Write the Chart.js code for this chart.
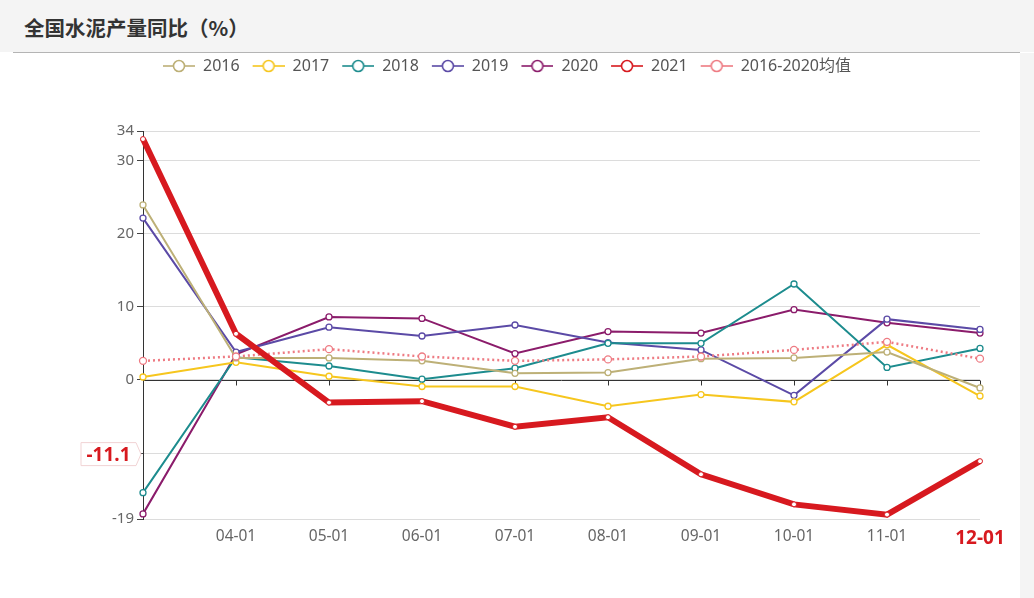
<!DOCTYPE html>
<html><head><meta charset="utf-8">
<script src="https://cdn.jsdelivr.net/npm/chart.js@4/dist/chart.umd.min.js"></script>
<style>
html,body{margin:0;padding:0;width:1034px;height:598px;overflow:hidden;background:#fff;}
#header{position:absolute;left:0;top:0;width:1034px;height:52px;background:#f4f4f4;}
#title{position:absolute;left:24px;top:15px;font:bold 20.5px "Noto Sans CJK SC",sans-serif;color:#333;line-height:24px;}
#rule{position:absolute;left:13px;top:52px;width:1007px;height:1px;background:#b4b4b4;}
#rightstrip{position:absolute;left:1020px;top:53px;width:14px;height:545px;background:#f4f4f4;}
#wrap{position:absolute;left:14px;top:48px;width:1006px;height:550px;}
</style></head>
<body>
<div id="header"><div id="title">全国水泥产量同比（%）</div></div>
<div id="rule"></div><div id="rightstrip"></div>
<div id="wrap"><canvas id="c"></canvas></div>
<script>
const categories = ['03-01','04-01','05-01','06-01','07-01','08-01','09-01','10-01','11-01','12-01'];
const s2016 = [23.9, 3.0, 3.0, 2.6, 0.9, 1.0, 2.9, 3.0, 3.8, -1.1];
const s2017 = [0.4, 2.4, 0.5, -0.9, -0.9, -3.6, -2.0, -3.0, 4.8, -2.2];
const s2018 = [-15.4, 3.1, 1.9, 0.1, 1.6, 5.0, 5.0, 13.1, 1.7, 4.3];
const s2019 = [22.1, 3.8, 7.2, 6.0, 7.5, 5.1, 4.1, -2.1, 8.3, 6.9];
const s2020 = [-18.3, 3.5, 8.6, 8.4, 3.6, 6.6, 6.4, 9.6, 7.8, 6.4];
const s2021 = [32.9, 6.3, -3.1, -2.9, -6.4, -5.1, -12.9, -17.0, -18.4, -11.1];
const sAvg  = [2.6, 3.2, 4.2, 3.2, 2.6, 2.8, 3.2, 4.1, 5.2, 2.9];
const yTicks = [-19, -10, 0, 10, 20, 30, 34];
const highlightTick = -10;

const FONT = "'Noto Sans', 'Noto Sans CJK SC', sans-serif";
const RED = '#d7191f';

function legendIcon(color) {
  const c = document.createElement('canvas');
  c.width = 35; c.height = 16;
  const g = c.getContext('2d');
  g.strokeStyle = color; g.lineWidth = 1.6;
  g.beginPath(); g.moveTo(3, 8); g.lineTo(35, 8); g.stroke();
  g.beginPath(); g.arc(19, 8, 5.5, 0, Math.PI * 2);
  g.fillStyle = '#fff'; g.fill(); g.stroke();
  return c;
}

function ds(label, data, color, extra) {
  return Object.assign({
    label, data, borderColor: color, backgroundColor: '#fff',
    borderWidth: 2, pointRadius: 3, pointBorderWidth: 1.3,
    pointBackgroundColor: '#fff', pointBorderColor: color,
    tension: 0, order: 2, icon: legendIcon(color)
  }, extra || {});
}

const datasets = [
  ds('2016', s2016, '#bdb077'),
  ds('2017', s2017, '#f6c61e'),
  ds('2018', s2018, '#1d8c8e'),
  ds('2019', s2019, '#5b4aa6'),
  ds('2020', s2020, '#8b1c6b'),
  ds('2021', s2021, RED, {borderWidth: 6, pointRadius: 2.5, pointBorderWidth: 1, order: 0}),
  ds('2016-2020均值', sAvg, '#ee7b83', {borderDash: [2, 3], borderWidth: 2.5, pointRadius: 3.5, order: 1})
];

const overlay = {
  id: 'overlay',
  beforeInit(chart) {
    const orig = chart.legend.fit;
    chart.legend.fit = function () { orig.call(this); this.height = 83; };
  },
  beforeDatasetsDraw(chart) {
    const {ctx, chartArea, scales: {x, y}} = chart;
    const y0 = Math.round(y.getPixelForValue(0)) + 0.5;
    ctx.save();
    ctx.strokeStyle = '#333'; ctx.lineWidth = 1;
    ctx.beginPath(); ctx.moveTo(chartArea.left, y0); ctx.lineTo(chartArea.right, y0); ctx.stroke();
    for (let i = 1; i < categories.length; i++) {
      const px = Math.round(x.getPixelForValue(i)) + 0.5;
      ctx.beginPath(); ctx.moveTo(px, y0); ctx.lineTo(px, y0 + 5); ctx.stroke();
    }
    ctx.restore();
  },
  afterDraw(chart) {
    const {ctx, chartArea, scales: {y}} = chart;
    const yy = y.getPixelForValue(highlightTick) + 1;
    const tip = chartArea.left - 2, br = chartArea.left - 7, bl = chartArea.left - 62, h = 23;
    ctx.save();
    ctx.beginPath();
    ctx.moveTo(bl, yy - h / 2); ctx.lineTo(br, yy - h / 2); ctx.lineTo(tip, yy);
    ctx.lineTo(br, yy + h / 2); ctx.lineTo(bl, yy + h / 2); ctx.closePath();
    ctx.fillStyle = '#fff'; ctx.fill();
    ctx.strokeStyle = '#f1d3d4'; ctx.lineWidth = 1; ctx.stroke();
    ctx.fillStyle = RED; ctx.font = "bold 19px " + FONT;
    ctx.textAlign = 'center'; ctx.textBaseline = 'middle';
    ctx.fillText(String(s2021[s2021.length - 1]), (bl + br) / 2, yy + 1);
    ctx.restore();
  }
};

new Chart(document.getElementById('c'), {
  type: 'line',
  data: {labels: categories, datasets},
  plugins: [overlay],
  options: {
    responsive: true, maintainAspectRatio: false, animation: false,
    layout: {padding: {left: 17, right: 40, top: 0, bottom: 0}},
    plugins: {
      tooltip: {enabled: false},
      legend: {
        position: 'top', align: 'center',
        labels: {
          usePointStyle: true, pointStyleWidth: 35, padding: 10,
          color: '#555', font: {size: 16, family: FONT},
          generateLabels(chart) {
            return chart.data.datasets.map((d, i) => ({
              text: d.label, pointStyle: d.icon, fillStyle: '#fff',
              strokeStyle: d.borderColor, lineWidth: 0, hidden: false, datasetIndex: i,
              fontColor: '#555'
            }));
          }
        }
      }
    },
    scales: {
      x: {
        afterFit(s) { s.height = 79; },
        grid: {display: false, drawTicks: false},
        border: {display: false},
        ticks: {
          autoSkip: false, maxRotation: 0, padding: 8,
          callback(v, i) { return i === 0 ? '' : categories[i]; },
          color: c => c.index === categories.length - 1 ? RED : '#666',
          font: c => c.index === categories.length - 1 ? {size: 19, weight: 'bold', family: FONT} : {size: 15.5, family: FONT}
        }
      },
      y: {
        min: -19, max: 34,
        afterFit(s) { s.width = 112; },
        afterBuildTicks(s) { s.ticks = yTicks.map(v => ({value: v})); },
        grid: {color: '#dcdcdc', tickColor: '#444', tickLength: 6, lineWidth: 1},
        border: {display: true, color: '#333', width: 1},
        ticks: {
          padding: 3, color: '#666', font: {size: 15, family: FONT},
          callback(v) { return v === highlightTick ? '' : v; }
        }
      }
    }
  }
});
</script>
</body></html>
